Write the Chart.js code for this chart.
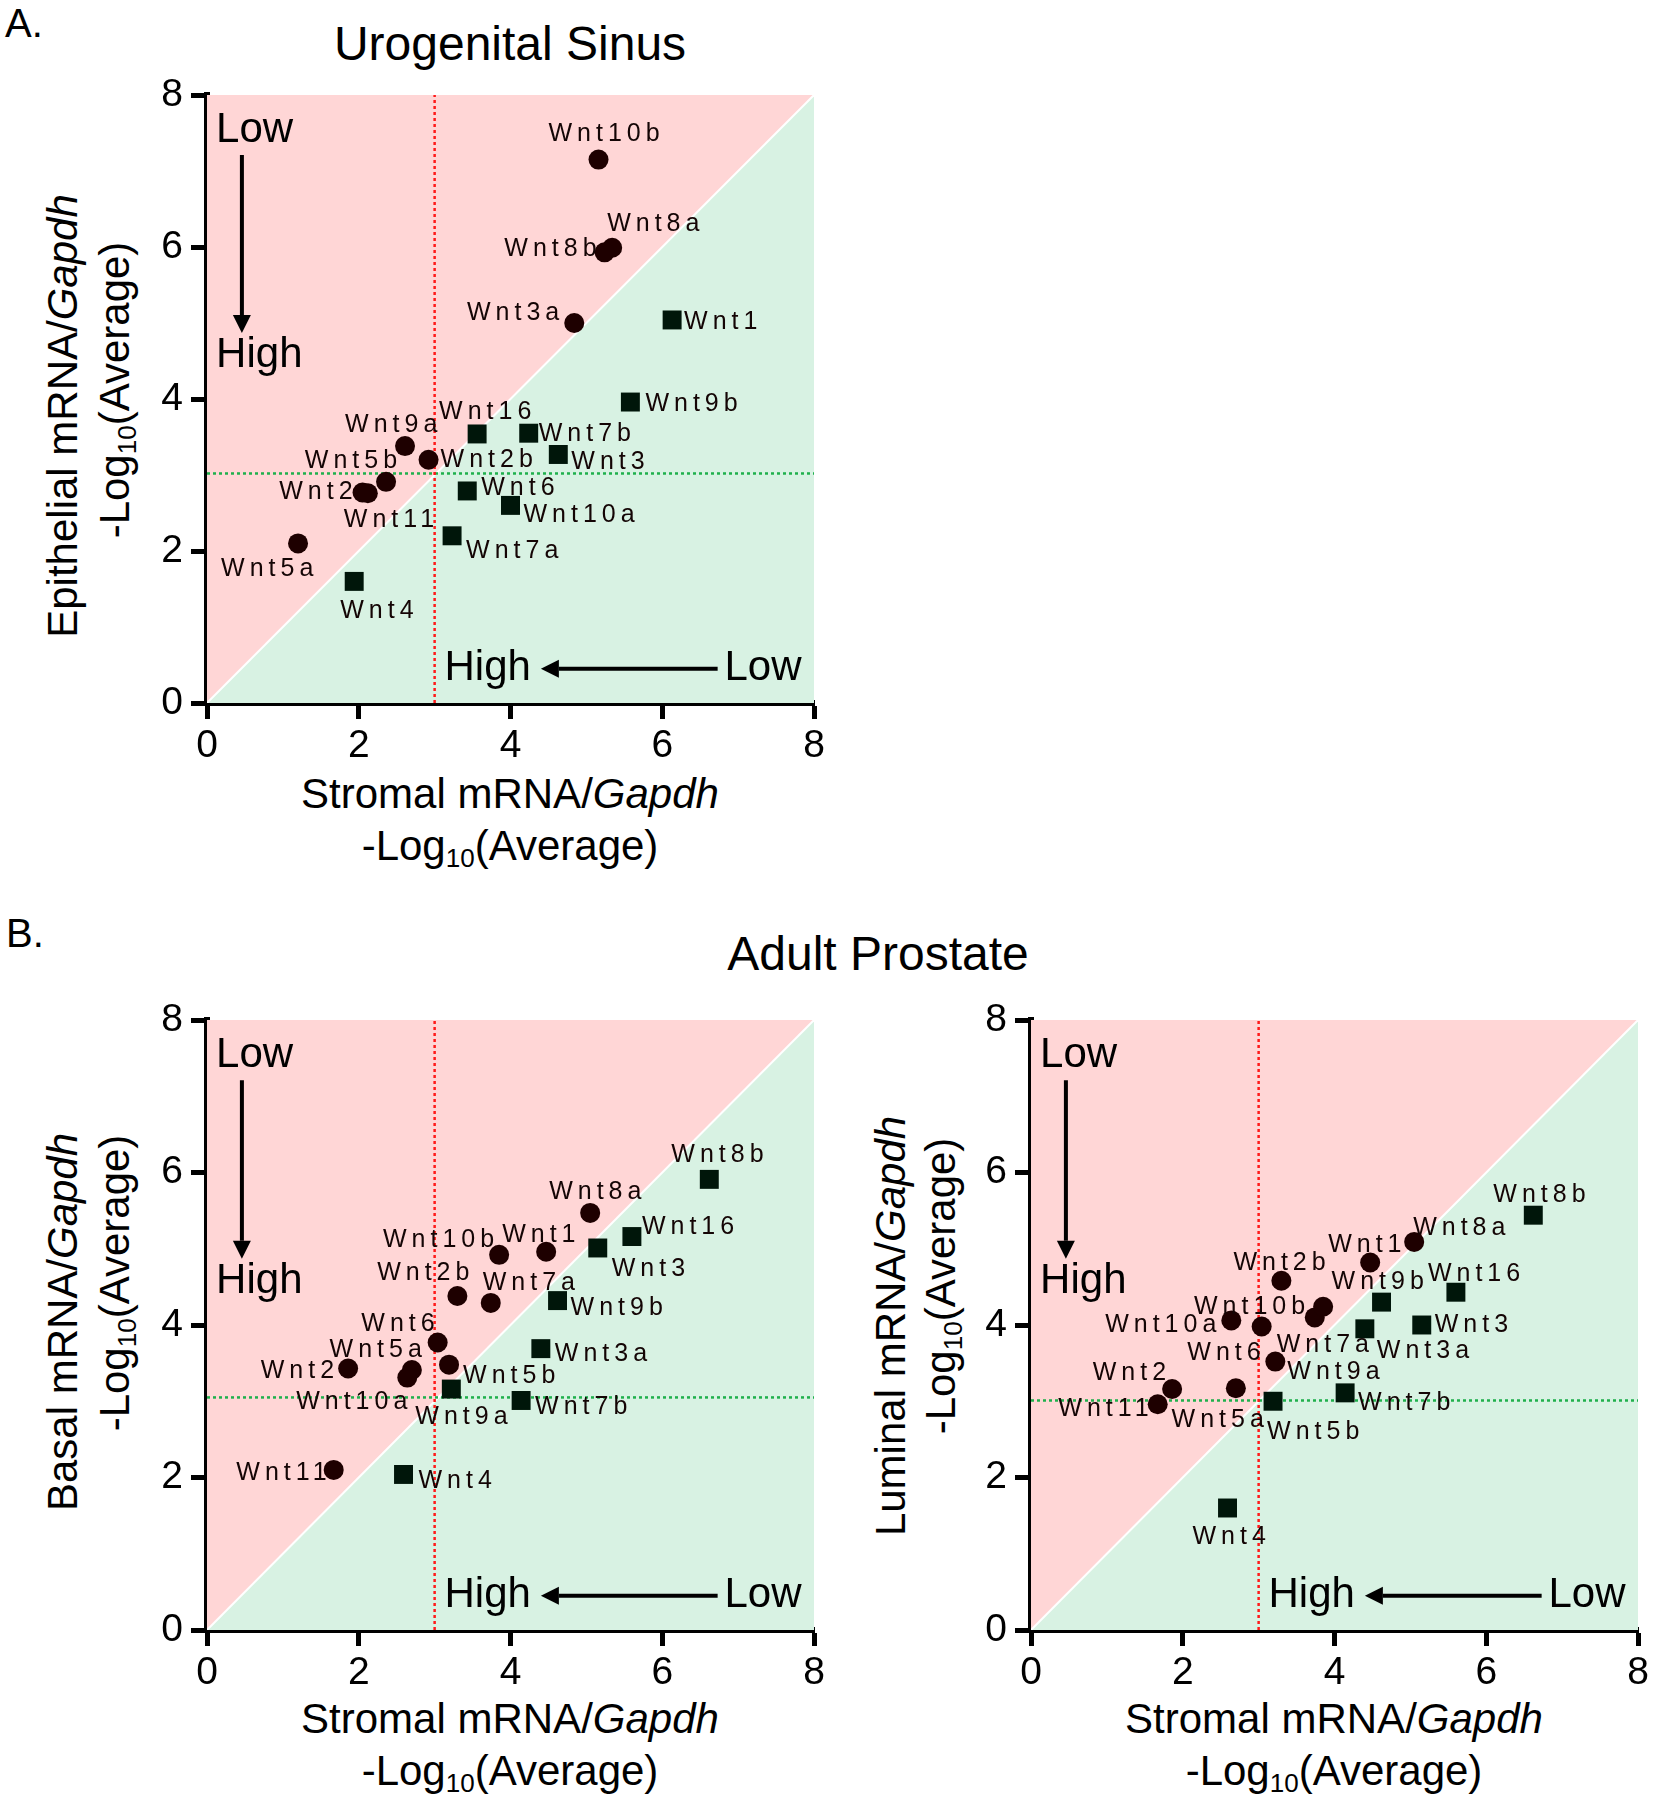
<!DOCTYPE html>
<html lang="en">
<head>
<meta charset="UTF-8">
<title>Wnt expression - Urogenital Sinus / Adult Prostate</title>
<script src="https://cdn.jsdelivr.net/npm/chart.js"></script>
<style>
  body {
    margin: 0;
    width: 1653px;
    height: 1800px;
    background: #ffffff;
    overflow: hidden;
    position: relative;
    font-family: 'Liberation Sans', Arial, sans-serif;
    color: #000;
  }
  canvas { position: absolute; }
  .txt {
    position: absolute;
    white-space: nowrap;
    line-height: 1;
    transform: translate(-50%, -50%);
  }
  .rot { transform: translate(-50%, -50%) rotate(-90deg); }
  .axis { font-size: 42px; }
  .title { font-size: 48px; }
  .tag { font-size: 40px; transform: translate(0, -50%); }
  sub { font-size: 0.62em; vertical-align: -0.28em; line-height: 0; }
</style>
</head>
<body>

<div class="txt tag" style="left:5px; top:23px;">A.</div>
<div class="txt title" style="left:510px; top:44px;">Urogenital Sinus</div>
<div class="txt tag" style="left:6px; top:933px;">B.</div>
<div class="txt title" style="left:878px; top:954px;">Adult Prostate</div>

<!-- panel A axis titles -->
<div class="txt axis rot" style="left:63px; top:416px;">Epithelial mRNA/<i>Gapdh</i></div>
<div class="txt axis rot" style="left:115px; top:390px;">-Log<sub>10</sub>(Average)</div>
<div class="txt axis" style="left:510px; top:794px;">Stromal mRNA/<i>Gapdh</i></div>
<div class="txt axis" style="left:510px; top:846px;">-Log<sub>10</sub>(Average)</div>

<!-- panel B left axis titles -->
<div class="txt axis rot" style="left:63px; top:1322px;">Basal mRNA/<i>Gapdh</i></div>
<div class="txt axis rot" style="left:115px; top:1283px;">-Log<sub>10</sub>(Average)</div>
<div class="txt axis" style="left:510px; top:1719px;">Stromal mRNA/<i>Gapdh</i></div>
<div class="txt axis" style="left:510px; top:1771px;">-Log<sub>10</sub>(Average)</div>

<!-- panel B right axis titles -->
<div class="txt axis rot" style="left:891px; top:1326px;">Luminal mRNA/<i>Gapdh</i></div>
<div class="txt axis rot" style="left:941px; top:1286px;">-Log<sub>10</sub>(Average)</div>
<div class="txt axis" style="left:1334px; top:1719px;">Stromal mRNA/<i>Gapdh</i></div>
<div class="txt axis" style="left:1334px; top:1771px;">-Log<sub>10</sub>(Average)</div>

<canvas id="ugsChart" width="834" height="713" style="left:0; top:50px;"></canvas>
<canvas id="basalChart" width="834" height="715" style="left:0; top:975px;"></canvas>
<canvas id="luminalChart" width="834" height="715" style="left:824px; top:975px;"></canvas>

<script>
    // genes, same order for every array below
    const genes = ['Wnt1', 'Wnt2', 'Wnt2b', 'Wnt3', 'Wnt3a', 'Wnt4', 'Wnt5a', 'Wnt5b', 'Wnt6', 'Wnt7a',
        'Wnt7b', 'Wnt8a', 'Wnt8b', 'Wnt9a', 'Wnt9b', 'Wnt10a', 'Wnt10b', 'Wnt11', 'Wnt16'];

    // A. urogenital sinus, -log10(average mRNA/Gapdh)
    const ugsStromal    = [6.13, 2.05, 2.92, 4.63, 4.84, 1.94, 1.20, 2.36, 3.43, 3.23, 4.24, 5.34, 5.24, 2.61, 5.58, 4.00, 5.16, 2.12, 3.56];
    const ugsEpithelial = [5.04, 2.77, 3.20, 3.27, 5.00, 1.60, 2.10, 2.91, 2.79, 2.20, 3.55, 5.99, 5.93, 3.38, 3.96, 2.60, 7.15, 2.76, 3.54];

    // B. adult prostate
    const adultStromal = [4.47, 1.86, 3.30, 5.15, 4.40, 2.59, 2.70, 3.19, 3.04, 3.74, 4.14, 5.05, 6.62, 3.22, 4.62, 2.64, 3.85, 1.67, 5.60];
    const adultBasal   = [4.96, 3.43, 4.38, 5.01, 3.69, 2.04, 3.41, 3.48, 3.77, 4.29, 3.01, 5.47, 5.91, 3.16, 4.32, 3.31, 4.92, 2.10, 5.16];
    const adultLuminal = [4.82, 3.16, 4.58, 4.00, 3.95, 1.60, 3.17, 3.00, 3.98, 4.10, 3.11, 5.09, 5.44, 3.52, 4.30, 4.06, 4.24, 2.96, 4.43];

    // dotted cut-off lines
    const stromalCutoff = 3.0;
    const epithelialCutoffs = [3.02, 3.05, 3.01];   // UGS, basal, luminal

    const tickValues = [0, 2, 4, 6, 8];

    // label placement next to each marker: [dx, dy, align] in px
    const labelsUGS = {
        Wnt10b: [-50, -25, 'left'], Wnt8a: [-5, -24, 'left'], Wnt8b: [-8, -3, 'right'], Wnt3a: [-15, -10, 'right'],
        Wnt1: [12, 2, 'left'], Wnt9b: [15, 2, 'left'], Wnt16: [-38, -22, 'left'], Wnt7b: [10, 1, 'left'],
        Wnt3: [13, 8, 'left'], Wnt9a: [-60, -21, 'left'], Wnt2b: [12, 0, 'left'], Wnt5b: [11, -21, 'right'],
        Wnt2: [-10, 0, 'right'], Wnt11: [-24, 27, 'left'], Wnt5a: [-77, 26, 'left'], Wnt6: [14, -3, 'left'],
        Wnt10a: [13, 10, 'left'], Wnt7a: [14, 15, 'left'], Wnt4: [-14, 30, 'left']
    };
    const labelsBasal = {
        Wnt8b: [-38, -24, 'left'], Wnt8a: [-41, -21, 'left'], Wnt16: [10, -9, 'left'], Wnt3: [14, 21, 'left'],
        Wnt1: [-44, -17, 'left'], Wnt10b: [-5, -15, 'right'], Wnt2b: [12, -23, 'right'], Wnt7a: [-8, -20, 'left'],
        Wnt9b: [13, 8, 'left'], Wnt6: [-3, -18, 'right'], Wnt3a: [14, 5, 'left'], Wnt5b: [14, 11, 'left'],
        Wnt5a: [10, -20, 'right'], Wnt2: [-14, 3, 'right'], Wnt10a: [0, 24, 'right'], Wnt9a: [-36, 28, 'left'],
        Wnt7b: [14, 7, 'left'], Wnt11: [-7, 3, 'right'], Wnt4: [15, 7, 'left']
    };
    const labelsLuminal = {
        Wnt8b: [-40, -20, 'left'], Wnt8a: [-1, -14, 'left'], Wnt1: [-42, -17, 'left'], Wnt2b: [-48, -18, 'left'],
        Wnt16: [-28, -18, 'left'], Wnt9b: [-50, -20, 'left'], Wnt10b: [-18, 0, 'right'], Wnt7a: [-38, 28, 'left'],
        Wnt6: [-1, 27, 'right'], Wnt10a: [-15, 5, 'right'], Wnt3: [13, 0, 'left'], Wnt3a: [12, 22, 'left'],
        Wnt9a: [12, 11, 'left'], Wnt2: [-6, -16, 'right'], Wnt5a: [28, 32, 'right'], Wnt11: [-9, 5, 'right'],
        Wnt5b: [-6, 31, 'left'], Wnt7b: [13, 10, 'left'], Wnt4: [-35, 29, 'left']
    };

    const FONT = "'Liberation Sans', Arial, sans-serif";
    const LABEL_SPACING = 5;

    function arrow(ctx, x1, y1, x2, y2) {
        const ang = Math.atan2(y2 - y1, x2 - x1);
        const head = 18, half = 9;
        const bx = x2 - head * Math.cos(ang), by = y2 - head * Math.sin(ang);
        ctx.beginPath();
        ctx.moveTo(x1, y1);
        ctx.lineTo(bx, by);
        ctx.lineWidth = 4;
        ctx.strokeStyle = '#000';
        ctx.stroke();
        ctx.beginPath();
        ctx.moveTo(x2, y2);
        ctx.lineTo(bx + half * Math.sin(ang), by - half * Math.cos(ang));
        ctx.lineTo(bx - half * Math.sin(ang), by + half * Math.cos(ang));
        ctx.closePath();
        ctx.fillStyle = '#000';
        ctx.fill();
    }

    // gene names, "Low/High" arrows
    const wntLabels = {
        id: 'wntLabels',
        afterDatasetsDraw(chart, args, opts) {
            const ctx = chart.ctx;
            const sx = chart.scales.x, sy = chart.scales.y;
            const px = v => sx.getPixelForValue(v), py = v => sy.getPixelForValue(v);
            ctx.save();

            ctx.font = '25px ' + FONT;
            ctx.letterSpacing = LABEL_SPACING + 'px';
            ctx.fillStyle = '#140505';
            ctx.textBaseline = 'middle';
            chart.data.datasets.forEach((ds, di) => {
                if (!ds.isMarker) return;
                chart.getDatasetMeta(di).data.forEach((el, i) => {
                    const gene = ds.data[i].gene;
                    const o = opts.offsets[gene] || [12, 0, 'left'];
                    ctx.textAlign = o[2];
                    const shift = o[2] === 'right' ? LABEL_SPACING : 0;
                    ctx.fillText(gene, el.x + o[0] + shift, el.y + o[1]);
                });
            });

            ctx.letterSpacing = '0px';
            ctx.fillStyle = '#000';
            ctx.font = '42px ' + FONT;
            ctx.textAlign = 'left';
            ctx.fillText('Low', px(0.12), py(7.53));
            ctx.fillText('High', px(0.12), py(4.57));
            arrow(ctx, px(0.46), py(7.21), px(0.46), py(4.87));
            ctx.fillText('High', px(3.13), py(0.45));
            arrow(ctx, px(6.73), py(0.45), px(4.40), py(0.45));
            ctx.fillText('Low', px(6.82), py(0.45));
            ctx.restore();
        }
    };

    function axisOptions(isX) {
        return {
            type: 'linear',
            min: 0,
            max: 8,
            afterBuildTicks: scale => { scale.ticks = tickValues.map(v => ({ value: v })); },
            afterFit: scale => {
                if (isX) scale.height = 60; else scale.width = 207;
            },
            grid: {
                drawOnChartArea: false,
                drawTicks: true,
                tickLength: 16,
                tickWidth: 5,
                tickColor: '#000'
            },
            border: { display: true, width: 6, color: '#000' },
            ticks: {
                color: '#000',
                padding: isX ? 8 : 8,
                font: { family: FONT, size: 39, lineHeight: 1 }
            }
        };
    }

    function renderPanel(canvasId, xs, ys, cutoff, offsets) {
        const points = genes.map((g, i) => ({ x: xs[i], y: ys[i], gene: g }));
        const higher = points.filter(p => p.y > p.x);   // circles
        const lower = points.filter(p => p.y <= p.x);   // squares

        const ctx = document.getElementById(canvasId).getContext('2d');
        return new Chart(ctx, {
            type: 'line',
            data: {
                datasets: [
                    {
                        data: higher, isMarker: true, showLine: false, order: 1,
                        pointStyle: 'circle', pointRadius: 10, pointBorderWidth: 0,
                        pointBackgroundColor: '#1e0000', pointBorderColor: '#1e0000'
                    },
                    {
                        data: lower, isMarker: true, showLine: false, order: 1,
                        pointStyle: 'rect', pointRadius: 13.4, pointBorderWidth: 0,
                        pointBackgroundColor: '#00160a', pointBorderColor: '#00160a'
                    },
                    {
                        data: [{ x: stromalCutoff, y: 0 }, { x: stromalCutoff, y: 8 }], order: 2,
                        borderColor: '#ff1a1a', borderWidth: 2.5, borderDash: [3, 3], pointRadius: 0, fill: false
                    },
                    {
                        data: [{ x: 0, y: cutoff }, { x: 8, y: cutoff }], order: 2,
                        borderColor: '#1fb04c', borderWidth: 2.5, borderDash: [3, 3], pointRadius: 0, fill: false
                    },
                    {
                        data: [{ x: 0, y: 0 }, { x: 8, y: 8 }], order: 3,
                        borderColor: '#ffffff', borderWidth: 2, pointRadius: 0,
                        fill: 'end', backgroundColor: '#ffd6d6'
                    },
                    {
                        data: [{ x: 0, y: 0 }, { x: 8, y: 8 }], order: 4,
                        borderColor: 'rgba(0,0,0,0)', borderWidth: 0, pointRadius: 0,
                        fill: 'start', backgroundColor: '#d8f2e3'
                    }
                ]
            },
            options: {
                responsive: false,
                animation: false,
                events: [],
                layout: { padding: { top: 45, right: 20, left: 0, bottom: 0 } },
                scales: { x: axisOptions(true), y: axisOptions(false) },
                plugins: {
                    legend: { display: false },
                    tooltip: { enabled: false },
                    wntLabels: { offsets: offsets }
                }
            },
            plugins: [wntLabels]
        });
    }

    document.addEventListener('DOMContentLoaded', () => {
        renderPanel('ugsChart', ugsStromal, ugsEpithelial, epithelialCutoffs[0], labelsUGS);
        renderPanel('basalChart', adultStromal, adultBasal, epithelialCutoffs[1], labelsBasal);
        renderPanel('luminalChart', adultStromal, adultLuminal, epithelialCutoffs[2], labelsLuminal);
    });
</script>

</body>
</html>
